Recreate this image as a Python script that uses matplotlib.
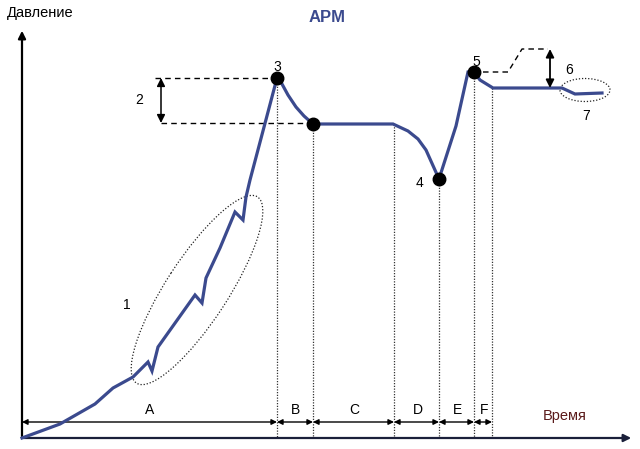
import numpy as np
import matplotlib
matplotlib.use('Agg')
import matplotlib.pyplot as plt
from matplotlib.patches import Ellipse

plt.rcParams['font.family'] = ['Liberation Sans', 'DejaVu Sans']

# кривая давления (x - время, y - давление, единицы картинки, ось y вниз)
curve_x = [22, 60, 95, 113, 133, 148, 152, 158, 195, 202, 206, 220, 235, 243, 246, 250, 277,
           282, 288, 296, 304, 313, 393, 408, 418, 426, 439, 456, 468, 474, 480, 493, 562, 575, 602]
curve_y = [438, 424, 404, 388, 377, 362, 371, 347, 295, 303, 278, 248, 212, 220, 197, 180, 78,
           84, 95, 107, 116, 124, 124, 131, 139, 150, 179, 126, 72, 72, 80, 88, 88, 94, 93]

# ключевые точки 3, 4, 5 и точка конца спада
pts_x = [277, 313, 439, 474]
pts_y = [78, 124, 179, 72]
pts_lbl = ['3', '', '4', '5']
lbl_off = [(0, -11), (0, 0), (-19, 4), (2, -10)]

# фазы
phase_edges = [22, 277, 313, 394, 439, 474, 492]
phase_names = ['A', 'B', 'C', 'D', 'E', 'F']
vline_top = [78, 124, 124, 179, 72, 88]

# пунктир уставки после точки 5
set_x = [483, 508, 522, 548]
set_y = [72, 72, 49, 49]

navy = '#3b4a8e'

fig = plt.figure(figsize=(6.4, 4.49), dpi=100)
ax = fig.add_axes([0, 0, 1, 1])
ax.set_xlim(0, 640)
ax.set_ylim(449, 0)
ax.axis('off')

# оси
ax.annotate('', xy=(22, 28), xytext=(22, 439),
            arrowprops=dict(arrowstyle='-|>', color='black', lw=1.6, mutation_scale=11))
ax.annotate('', xy=(634, 438), xytext=(21, 438),
            arrowprops=dict(arrowstyle='-|>', color='#1a1f3a', lw=1.6, mutation_scale=11))
ax.text(7, 13, 'Давление', fontsize=10.5, va='center', ha='left')
ax.text(565, 416, 'Время', fontsize=10.5, va='center', ha='center', color='#5a1a1a')
ax.text(327, 18, 'APM', fontsize=12, fontweight='bold', color=navy, ha='center', va='center')

# вертикальные пунктиры
for xe, yt in zip(phase_edges[1:], vline_top):
    ax.plot([xe, xe], [yt, 438], color='#333333', lw=0.9, ls=(0, (1, 1.2)))

# размерные стрелки фаз
for i, name in enumerate(phase_names):
    x0, x1 = phase_edges[i], phase_edges[i + 1]
    ax.annotate('', xy=(x1, 422), xytext=(x0, 422),
                arrowprops=dict(arrowstyle='<|-|>', color='black', lw=1.0,
                                mutation_scale=8, shrinkA=0, shrinkB=0))
    ax.text((x0 + x1) / 2 + (1 if i else 0), 410, name, fontsize=10, ha='center', va='center')

# кривая
ax.plot(curve_x, curve_y, color=navy, lw=2.3, solid_joinstyle='miter', zorder=3)
ax.plot(pts_x, pts_y, 'o', color='black', ms=9, zorder=4)
for px, py, t, (dx, dy) in zip(pts_x, pts_y, pts_lbl, lbl_off):
    if t:
        ax.text(px + dx, py + dy, t, fontsize=10, ha='center', va='center')

# превышение 2
ax.plot([155, 277], [78, 78], color='black', lw=1.0, ls=(0, (4, 3)))
ax.plot([161, 313], [123, 123], color='black', lw=1.0, ls=(0, (4, 3)))
ax.annotate('', xy=(161, 123), xytext=(161, 78),
            arrowprops=dict(arrowstyle='<|-|>', color='black', lw=1.1,
                            mutation_scale=12, shrinkA=0, shrinkB=0))
ax.text(139, 100, '2', fontsize=10, ha='center', va='center')

# уставка и 6
ax.plot(set_x, set_y, color='black', lw=1.0, ls=(0, (4, 3)))
ax.annotate('', xy=(550, 88), xytext=(550, 49),
            arrowprops=dict(arrowstyle='<|-|>', color='black', lw=1.3,
                            mutation_scale=12, shrinkA=0, shrinkB=0))
ax.text(569, 70, '6', fontsize=10, ha='center', va='center')

# эллипсы 1 и 7
ax.add_patch(Ellipse((197, 290), 222, 62, angle=-57, fill=False,
                     ls=(0, (1, 1.5)), lw=0.9, color='#222222'))
ax.text(127, 305, '1', fontsize=10, ha='center', va='center')
ax.add_patch(Ellipse((585, 90), 50, 23, fill=False,
                     ls=(0, (1, 1.5)), lw=0.9, color='#222222'))
ax.text(586, 116, '7', fontsize=10, ha='center', va='center')

fig.savefig('out.png', dpi=100)
